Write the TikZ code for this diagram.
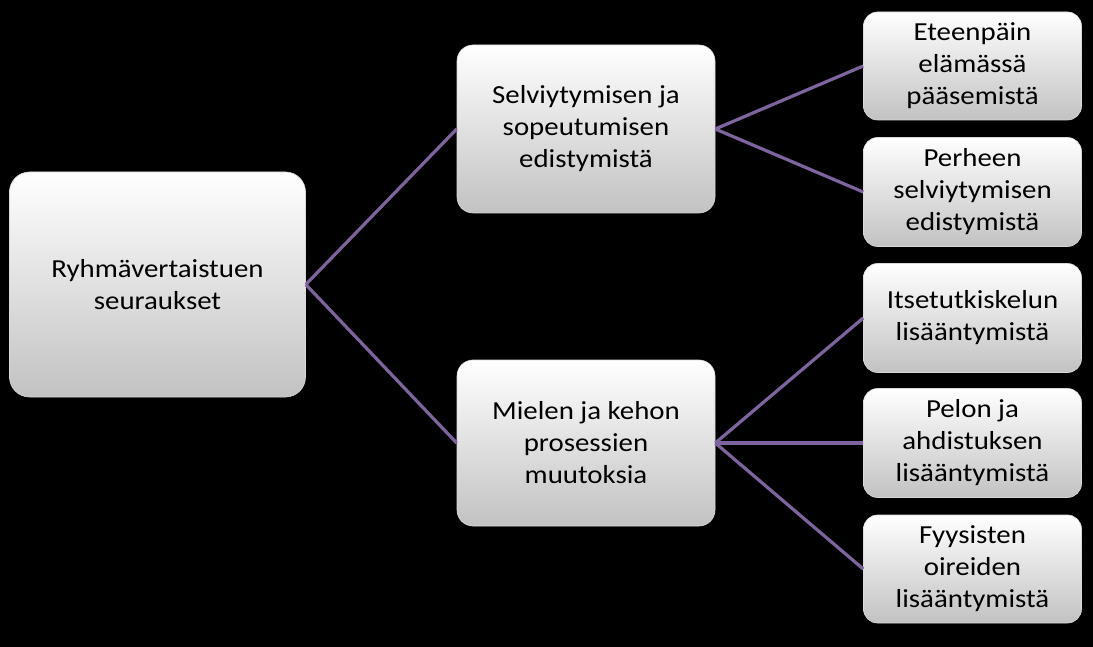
\documentclass[tikz,border=0pt]{standalone}
\usepackage{fontspec}
\setmainfont{Carlito}[FakeStretch=1.11]
\definecolor{linkpurple}{RGB}{126,100,158}
\definecolor{boxgray}{RGB}{194,194,194}

\begin{document}
\begin{tikzpicture}[x=1pt,y=-1pt]

      % Background
      \fill[black] (0,0) rectangle (1093,647);

      % Nodes
      \begin{scope}[every node/.style={rectangle,rounded corners=14pt,top color=white,bottom color=boxgray,
          draw=white!85!black,line width=0.6pt,align=center,font=\fontsize{26}{32}\selectfont,inner sep=2pt}]
        \node[minimum width=296pt,minimum height=225pt,rounded corners=20pt] (root) at (157.5,284.5) {Ryhmävertaistuen\\seuraukset};

        \node[minimum width=258pt,minimum height=168pt,rounded corners=16pt] (m1) at (586,129) {Selviytymisen ja\\sopeutumisen\\edistymistä};
        \node[minimum width=258pt,minimum height=166pt,rounded corners=16pt] (m2) at (586,443) {Mielen ja kehon\\prosessien\\muutoksia};

        \node[minimum width=218pt,minimum height=108pt] (l1) at (972.5,66) {Eteenpäin\\elämässä\\pääsemistä};
        \node[minimum width=218pt,minimum height=109pt] (l2) at (972.5,192) {Perheen\\selviytymisen\\edistymistä};
        \node[minimum width=218pt,minimum height=109pt] (l3) at (972.5,318) {Itsetutkiskelun\\lisääntymistä};
        \node[minimum width=218pt,minimum height=109pt] (l4) at (972.5,443) {Pelon ja\\ahdistuksen\\lisääntymistä};
        \node[minimum width=218pt,minimum height=108pt] (l5) at (972.5,569) {Fyysisten\\oireiden\\lisääntymistä};
      \end{scope}

      % Edges
      \begin{scope}[every edge/.style={draw,linkpurple,line width=3.2pt}]
        \path (root.east) edge (m1.west);
        \path (root.east) edge (m2.west);

        \path (m1.east) edge (l1.west);
        \path (m1.east) edge (l2.west);

        \path (m2.east) edge (l3.west);
        \path (m2.east) edge (l4.west);
        \path (m2.east) edge (l5.west);
      \end{scope}

    \end{tikzpicture}
\end{document}
